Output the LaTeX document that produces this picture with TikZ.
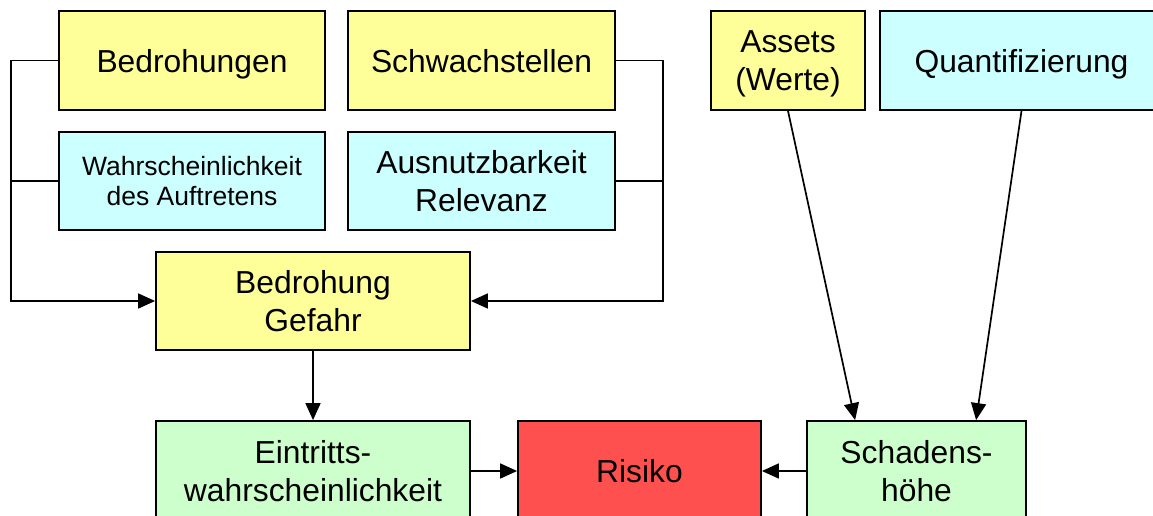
\documentclass[tikz,border=0pt]{standalone}
\usepackage{fontspec}
\setmainfont{Liberation Sans}
\usetikzlibrary{arrows.meta}
\definecolor{boxyellow}{HTML}{FFFF99}
\definecolor{boxcyan}{HTML}{CCFFFF}
\definecolor{boxgreen}{HTML}{CCFFCC}
\definecolor{boxred}{HTML}{FF5050}
\tikzset{
  block/.style={draw=black, line width=1.8pt, align=center, inner sep=0pt,
    text depth=0pt, font=\fontsize{31.8}{37.5}\selectfont},
  smalltext/.style={font=\fontsize{26.5}{30}\selectfont},
  link/.style={line width=1.7pt, draw=black},
  arrowlink/.style={link, -{Triangle[length=17pt,width=15pt]}},
}
\begin{document}
\begin{tikzpicture}[x=1pt,y=-1pt]
  \useasboundingbox (0,0) rectangle (1153,516);
  \clip (0,0) rectangle (1153,516);
  \fill[white] (0,0) rectangle (1153,516);

  % upper row: threats and vulnerabilities
  \node[block, fill=boxyellow, minimum width=266pt, minimum height=99pt] (bedr) at (192,60.5) {Bedrohungen};
  \node[block, fill=boxyellow, minimum width=267pt, minimum height=99pt] (schw) at (481.5,60.5) {Schwachstellen};
  \node[block, smalltext, fill=boxcyan, minimum width=266pt, minimum height=98pt] (wahr) at (192,181) {Wahrscheinlichkeit\\des Auftretens};
  \node[block, fill=boxcyan, minimum width=267pt, minimum height=98pt] (ausn) at (481.5,181) {Ausnutzbarkeit\\Relevanz};
  \node[block, fill=boxyellow, minimum width=314pt, minimum height=98pt] (gef) at (313,301) {Bedrohung\\Gefahr};

  % assets and their valuation
  \node[block, fill=boxyellow, minimum width=154pt, minimum height=99pt] (assets) at (788,60.5) {Assets\\(Werte)};
  \node[block, fill=boxcyan, minimum width=283pt, minimum height=99pt] (quant) at (1021.5,60.5) {Quantifizierung};

  % bottom row
  \node[block, fill=boxgreen, minimum width=314pt, minimum height=100pt] (eintr) at (313,471) {Eintritts-\\wahrscheinlichkeit};
  \node[block, fill=boxred, minimum width=243pt, minimum height=100pt] (risiko) at (639.5,471) {Risiko};
  \node[block, fill=boxgreen, minimum width=219pt, minimum height=100pt] (schaden) at (916.5,471) {Schadens-\\höhe};

  % left bus into the threat box
  \draw[arrowlink] (bedr.west) -- ++(-47,0) |- (gef.west);
  \draw[link] (wahr.west) -- ++(-47,0);
  % right bus into the threat box
  \draw[arrowlink] (schw.east) -- ++(47,0) |- (gef.east);
  \draw[link] (ausn.east) -- ++(47,0);

  \draw[arrowlink] (gef.south) -- (eintr.north);
  \draw[arrowlink] (eintr.east) -- (risiko.west);
  \draw[arrowlink] (schaden.west) -- (risiko.east);

  \draw[arrowlink] (assets.south) -- ([xshift=49pt]schaden.north west);
  \draw[arrowlink] (quant.south) -- ([xshift=170pt]schaden.north west);
\end{tikzpicture}
\end{document}
